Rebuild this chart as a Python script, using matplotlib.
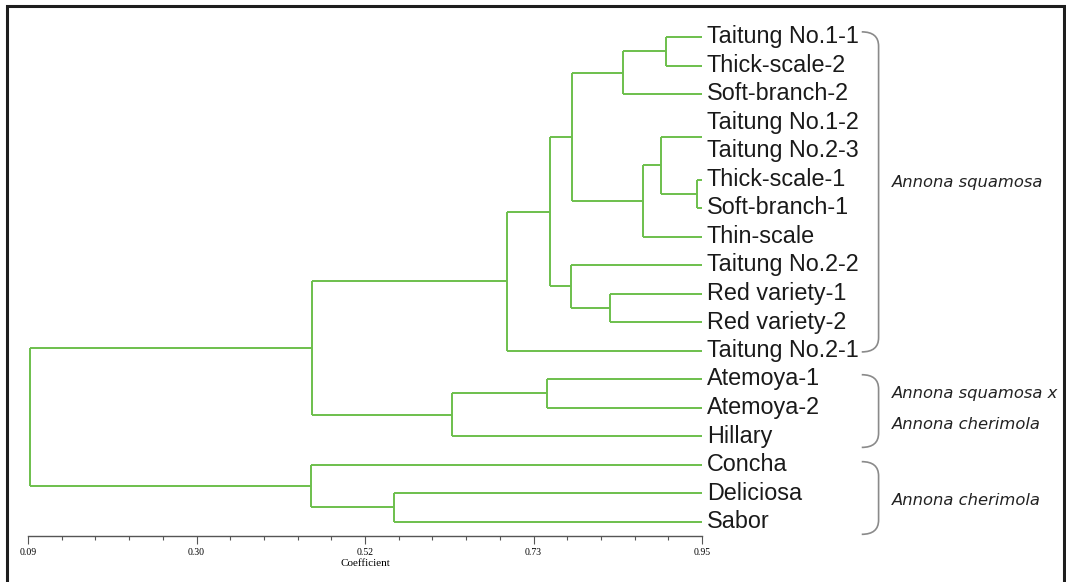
import numpy as np
import matplotlib
matplotlib.use("Agg")
import matplotlib.pyplot as plt
from matplotlib.path import Path
from matplotlib.patches import PathPatch, Rectangle

# leaves, top to bottom
leaves = ["Taitung No.1-1", "Thick-scale-2", "Soft-branch-2", "Taitung No.1-2",
          "Taitung No.2-3", "Thick-scale-1", "Soft-branch-1", "Thin-scale",
          "Taitung No.2-2", "Red variety-1", "Red variety-2", "Taitung No.2-1",
          "Atemoya-1", "Atemoya-2", "Hillary", "Concha", "Deliciosa", "Sabor"]

# merges: (child a, child b, similarity coefficient); new node ids start at 18
merge_a = [0, 18, 3, 5, 20, 22, 19, 9, 8, 24, 27, 12, 29, 28, 16, 15, 31]
merge_b = [1, 2, 4, 6, 21, 7, 23, 10, 25, 26, 11, 13, 14, 30, 17, 32, 33]
merge_coef = [0.904, 0.849, 1.00, 0.944, 0.898, 0.875, 0.784, 0.833, 0.783,
              0.756, 0.701, 0.752, 0.631, 0.452, 0.557, 0.451, 0.092]

# axis
x_min, x_max = 0.09, 0.95
tick_labels = ["0.09", "0.30", "0.52", "0.73", "0.95"]

# groups: first leaf, last leaf, labels
group_first = [0, 12, 15]
group_last = [11, 14, 17]
group_labels = [["Annona squamosa"], ["Annona squamosa x", "Annona cherimola"],
                ["Annona cherimola"]]

W, H = 1066, 582
fig = plt.figure(figsize=(W / 100, H / 100), dpi=100)
fig.patch.set_facecolor("white")
ax = fig.add_axes([28 / W, (H - 535.75) / H, 674 / W, 513 / H])

green = "#6cbf4c"
n = len(leaves)
xpos = {i: x_max for i in range(n)}
ypos = {i: float(i) for i in range(n)}

for k, (a, b, c) in enumerate(zip(merge_a, merge_b, merge_coef)):
    node = n + k
    xc = min(c, x_max)
    for ch in (a, b):
        ax.plot([xc, xpos[ch]], [ypos[ch], ypos[ch]], color=green, lw=1.4,
                solid_capstyle="butt", clip_on=False)
    if c < x_max:
        ax.plot([xc, xc], [ypos[a], ypos[b]], color=green, lw=1.4,
                solid_capstyle="butt", clip_on=False)
    xpos[node] = xc
    ypos[node] = (ypos[a] + ypos[b]) / 2

for i, name in enumerate(leaves):
    ax.annotate(name, (x_max, i), xytext=(3.5, 0), textcoords="offset points",
                va="center", ha="left", fontsize=16.8, family="Liberation Sans",
                color="#1a1a1a", annotation_clip=False)

ax.set_xlim(x_min, x_max)
ax.set_ylim(n - 0.5, -0.5)
for s in ["top", "right", "left"]:
    ax.spines[s].set_visible(False)
ax.spines["bottom"].set_color("#555555")
ax.spines["bottom"].set_linewidth(1.0)
ax.set_yticks([])
ax.set_xticks(np.linspace(x_min, x_max, 5))
ax.set_xticks(np.linspace(x_min, x_max, 21), minor=True)
ax.set_xticklabels(tick_labels, family="Liberation Serif", fontsize=7)
ax.tick_params(axis="x", which="major", length=6, width=0.8, color="#555555", pad=2.5)
ax.tick_params(axis="x", which="minor", length=3, width=0.8, color="#555555")
ax.set_xlabel("Coefficient", family="Liberation Serif", fontsize=8, labelpad=1.5)
ax.patch.set_alpha(0)

# braces and group names
tr = ax.get_yaxis_transform()
x0, x1 = 1.237, 1.262
tops = [-0.18, 11.85, 14.9]
bots = [11.05, 14.4, 17.45]
label_y = [[5.1], [12.5, 13.6], [16.25]]
for top, bot, labs, ys in zip(tops, bots, group_labels, label_y):
    r = 0.5
    verts = [(x0, top), (x1, top), (x1, top + r), (x1, bot - r), (x1, bot), (x0, bot)]
    codes = [Path.MOVETO, Path.CURVE3, Path.CURVE3, Path.LINETO, Path.CURVE3, Path.CURVE3]
    ax.add_patch(PathPatch(Path(verts, codes), transform=tr, fill=False,
                           edgecolor="#8a8a8a", lw=1.2, clip_on=False))
    for lab, y in zip(labs, ys):
        ax.text(1.282, y, lab, transform=tr, va="center", ha="left",
                fontsize=11.8, style="italic", family="DejaVu Sans", color="#222222")

# outer frame (bottom edge cut off)
fig.patches.append(Rectangle((6.5 / W, -0.05), 1057.5 / W, (H - 5.5) / H + 0.05,
                             transform=fig.transFigure, fill=False,
                             edgecolor="#1e1e1e", lw=2.2))

fig.savefig("out.png", dpi=100)
